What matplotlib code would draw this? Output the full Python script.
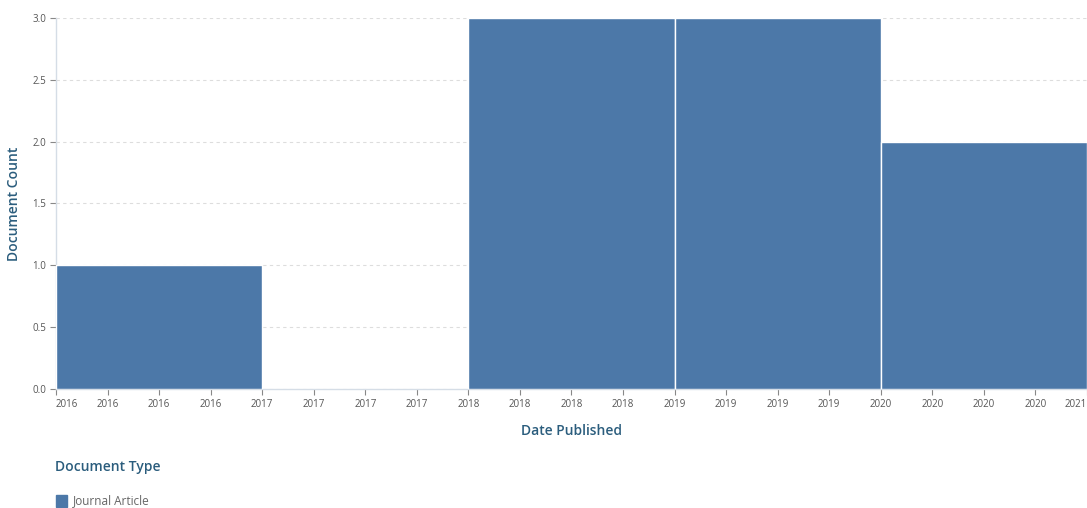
import matplotlib
matplotlib.use("Agg")
import matplotlib.pyplot as plt
from matplotlib.patches import Rectangle

# data
years = [2016, 2017, 2018, 2019, 2020]
counts = [1, 0, 3, 3, 2]
doc_type = "Journal Article"

bar_color = "#4c78a8"
title_color = "#2b5d7d"
tick_color = "#555555"
axis_color = "#d5dde6"

plt.rcParams['font.family'] = ['Open Sans', 'DejaVu Sans']

fig = plt.figure(figsize=(10.87, 5.08), dpi=100)
ax = fig.add_axes([56/1087, 1-389/508, 1-56/1087, (389-18)/508])

ax.bar(years, counts, width=1.0, align='edge', color=bar_color,
       edgecolor='white', linewidth=1.0, zorder=3)

ax.set_xlim(2016, 2021)
ax.set_ylim(0, 3)

qticks = [2016 + 0.25*i for i in range(21)]
ax.set_xticks(qticks)
ax.set_xticklabels([str(int(t)) for t in qticks])
ax.set_yticks([0, 0.5, 1, 1.5, 2, 2.5, 3])
ax.set_yticklabels(["%.1f" % v for v in [0, 0.5, 1, 1.5, 2, 2.5, 3]])
ax.tick_params(axis='both', labelsize=7, colors=tick_color, length=4,
               width=0.8, pad=3)
ax.tick_params(axis='both', color='#888888')
xl = ax.get_xticklabels()
xl[0].set_ha('left')
xl[-1].set_ha('right')

ax.grid(axis='y', linestyle=(0, (3, 3)), color='#dddddd', linewidth=0.8, zorder=0)
for s in ['top', 'right']:
    ax.spines[s].set_visible(False)
for s in ['left', 'bottom']:
    ax.spines[s].set_color(axis_color)
    ax.spines[s].set_linewidth(1.0)

ax.set_xlabel("Date Published", fontsize=10, color=title_color,
              fontweight='semibold', labelpad=10)
ax.set_ylabel("Document Count", fontsize=10, color=title_color,
              fontweight='semibold', labelpad=8)

# legend drawn by hand at the bottom left
fig.text(55/1087, 1-467/508, "Document Type", fontsize=10, color=title_color,
         fontweight='semibold', va='center', ha='left')
fig.patches.append(Rectangle((56/1087, 1-507/508), 11/1087, 12/508,
                             transform=fig.transFigure, color=bar_color))
fig.text(73/1087, 1-501/508, doc_type, fontsize=8.5, color='#666666',
         va='center', ha='left')

fig.savefig("out.png", dpi=100)
